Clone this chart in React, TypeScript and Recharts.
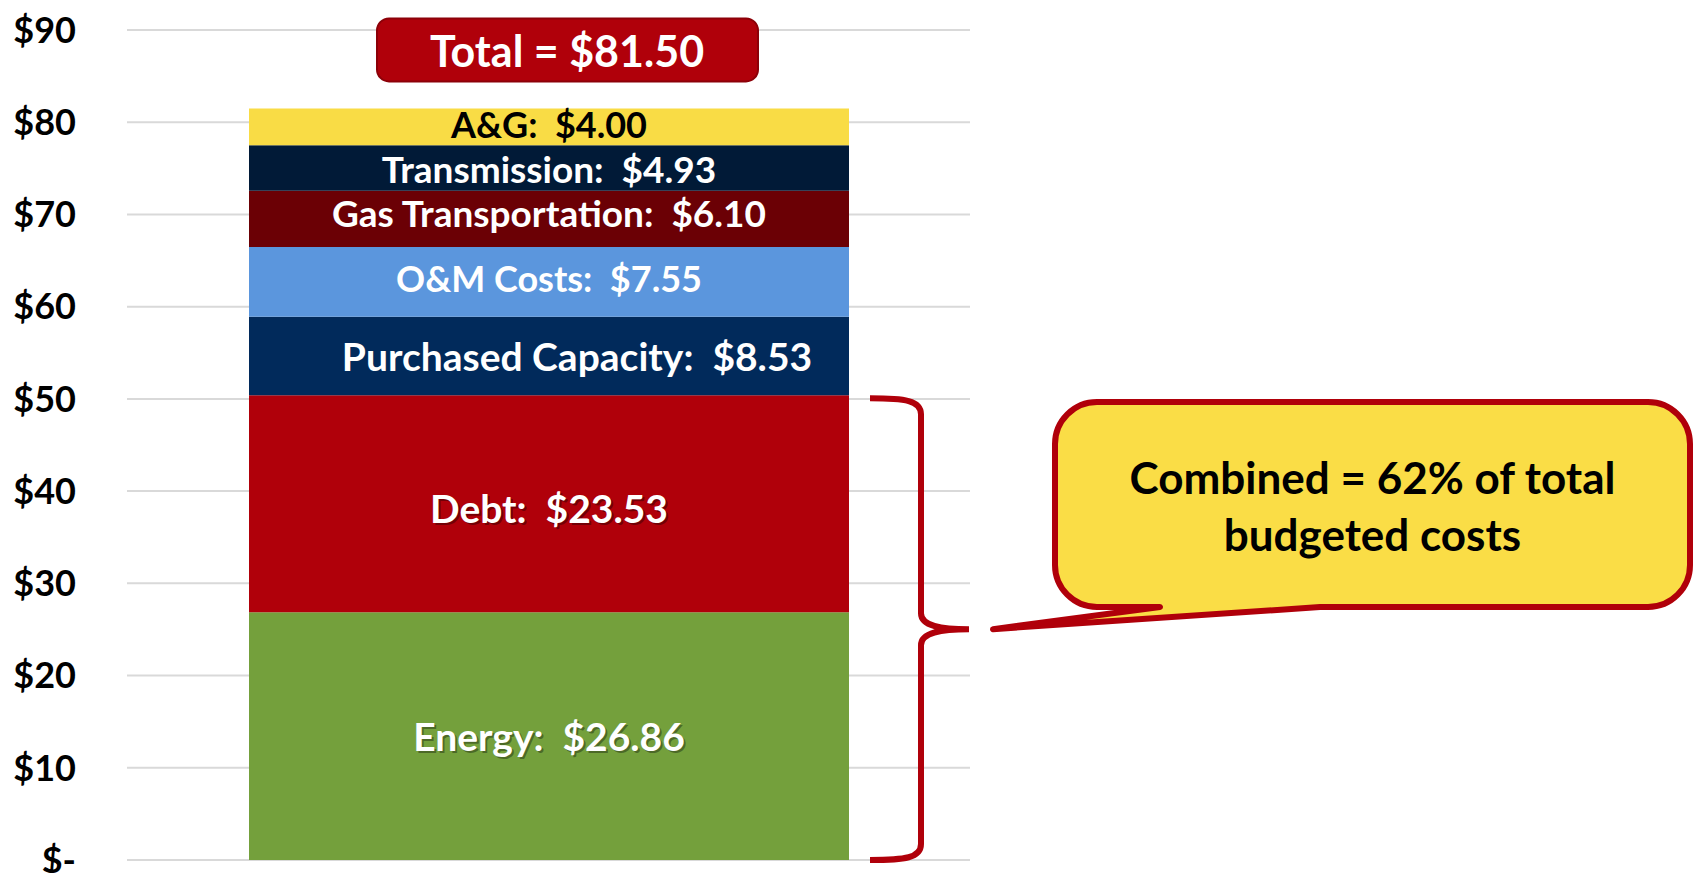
import React from 'react';
import { BarChart, Bar, XAxis, YAxis, CartesianGrid } from 'recharts';

// cost components, bottom to top
const categories = ['Energy', 'Debt', 'Purchased Capacity', 'O&M Costs', 'Gas Transportation', 'Transmission', 'A&G'];
const values = [26.86, 23.53, 8.53, 7.55, 6.1, 4.93, 4.0];
const yTicks = [0, 10, 20, 30, 40, 50, 60, 70, 80, 90];
const totalText = 'Total = $81.50';
const calloutLines = ['Combined = 62% of total', 'budgeted costs'];

// styles
const colors = ['#74A03C', '#B0000A', '#012A5B', '#5B96DD', '#6B0005', '#011A37', '#F9DC45'];
const labelColors = ['#fff', '#fff', '#fff', '#fff', '#fff', '#fff', '#000'];
const labelSizes = [39, 39, 39, 36, 37, 37, 36];
const labelShift = [[0, 0], [0, 4], [28, 0], [0, -4], [0, -6], [0, 0], [0, -3]];
const shadowed = [true, true, false, false, false, false, false];

const W = 1696;
const H = 873;
const M = { top: 30, right: 726, bottom: 13, left: 0 };
const Y_W = 127;
const FONT = 'Lato, "Open Sans", sans-serif';
const RED = '#B0000A';

const row: Record<string, string | number> = { name: 'Budget' };
categories.forEach((c, i) => { row[c] = values[i]; });
const data = [row];

const yMax = yTicks[yTicks.length - 1];
const yOf = (v: number) => M.top + (H - M.top - M.bottom) * (1 - v / yMax);
const fmt = (v: number) => `$${v.toFixed(2)}`;

function SegLabel(props: any, i: number) {
  const { x, y, width, height } = props;
  const cx = x + width / 2 + labelShift[i][0];
  const cy = y + height / 2 + labelShift[i][1];
  const text = `${categories[i]}:  ${fmt(values[i])}`;
  const isTop = i === categories.length - 1;
  const bx = x + width / 2 + 18;
  return (
    <g>
      {shadowed[i] && (
        <text x={cx + 2} y={cy + 2} textAnchor="middle" dominantBaseline="central" fill="rgba(0,0,0,0.35)"
          fontFamily={FONT} fontWeight={700} fontSize={labelSizes[i]} style={{ whiteSpace: 'pre' }}>{text}</text>
      )}
      <text x={cx} y={cy} textAnchor="middle" dominantBaseline="central" fill={labelColors[i]}
        fontFamily={FONT} fontWeight={700} fontSize={labelSizes[i]} style={{ whiteSpace: 'pre' }}>{text}</text>
      {isTop && (
        <g>
          <rect x={bx - 190} y={y - 90} width={381} height={63} rx={12} fill={RED} stroke="#8C0008" strokeWidth={2} />
          <text x={bx} y={y - 58} textAnchor="middle" dominantBaseline="central" fill="#fff"
            fontFamily={FONT} fontWeight={700} fontSize={43}>{totalText}</text>
        </g>
      )}
    </g>
  );
}

function Overlay() {
  const top = yOf(values[0] + values[1]) + 3;
  const bot = yOf(0);
  const mid = (top + bot) / 2;
  const bx = 921;
  const bracket = `M870,${top} C905,${top} ${bx},${top + 2} ${bx},${top + 16} L${bx},${mid - 16} C${bx},${mid - 3} ${bx + 20},${mid} 969,${mid}
    C${bx + 20},${mid} ${bx},${mid + 3} ${bx},${mid + 16} L${bx},${bot - 16} C${bx},${bot - 2} 905,${bot} 870,${bot}`;
  const L = 1055, R = 1690, T = 402, B = 607, r = 42;
  const callout = `M${L + r},${T} H${R - r} A${r},${r} 0 0 1 ${R},${T + r} V${B - r} A${r},${r} 0 0 1 ${R - r},${B}
    H1320 L993,${mid} L1160,${B} H${L + r} A${r},${r} 0 0 1 ${L},${B - r} V${T + r} A${r},${r} 0 0 1 ${L + r},${T} Z`;
  const tx = (L + R) / 2;
  return (
    <svg width={W} height={H} style={{ position: 'absolute', left: 0, top: 0, pointerEvents: 'none' }}>
      <path d={bracket} fill="none" stroke={RED} strokeWidth={6} />
      <path d={callout} fill="#FADD46" stroke={RED} strokeWidth={6} strokeLinejoin="round" />
      {calloutLines.map((t, i) => (
        <text key={t} x={tx} y={477 + i * 57} textAnchor="middle" dominantBaseline="central" fill="#000"
          fontFamily={FONT} fontWeight={700} fontSize={44}>{t}</text>
      ))}
    </svg>
  );
}

export default function App() {
  return (
    <div style={{ position: 'absolute', left: 0, top: 0, width: W, height: H, background: '#fff' }}>
      <BarChart width={W} height={H} data={data} margin={M}>
        <CartesianGrid vertical={false} stroke="#D9D9D9" strokeWidth={2} />
        <XAxis dataKey="name" hide />
        <YAxis domain={[0, yMax]} ticks={yTicks} interval={0} width={Y_W} axisLine={false} tickLine={false} tickSize={6} tickMargin={45}
          tickFormatter={(v: number) => (v === 0 ? '$-' : `$${v}`)}
          tick={{ fill: '#000', fontFamily: FONT, fontWeight: 700, fontSize: 36 }} />
        {categories.map((c, i) => (
          <Bar key={c} dataKey={c} stackId="cost" fill={colors[i]} barSize={600} isAnimationActive={false}
            label={(p: any) => SegLabel(p, i)} />
        ))}
      </BarChart>
      <Overlay />
    </div>
  );
}
